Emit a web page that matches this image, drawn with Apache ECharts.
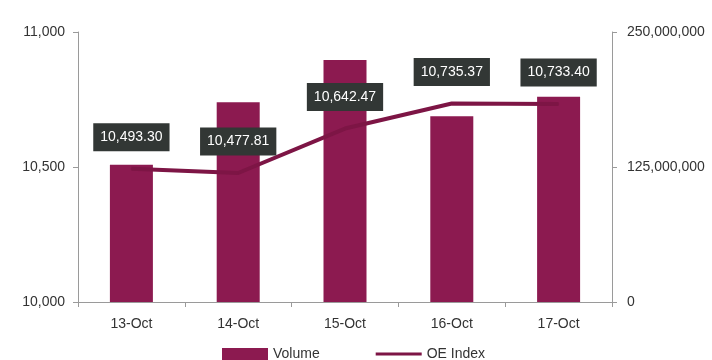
<!DOCTYPE html>
<html>
<head>
<meta charset="utf-8">
<script src="https://cdn.jsdelivr.net/npm/echarts@6/dist/echarts.min.js"></script>
<style>
  html, body { margin: 0; padding: 0; background: #ffffff; }
  #chart { width: 712px; height: 360px; }
</style>
</head>
<body>
<div id="chart"></div>
<script>
// Daily trading volume and OE Index closing level
const days = ['13-Oct', '14-Oct', '15-Oct', '16-Oct', '17-Oct'];
const volume = [127000000, 185000000, 224000000, 172000000, 190000000];
const oeIndex = [10493.30, 10477.81, 10642.47, 10735.37, 10733.40];
const indexTicks = [10000, 10500, 11000];
const volumeTicks = [0, 125000000, 250000000];

const maroon = '#8c1a50';
const lineColor = '#7d1545';
const axisGrey = '#9a9a9a';
const textColor = '#333333';
const fontFamily = '"Liberation Sans", Arial, sans-serif';

// thin bar centred in a 46x12 box, used as the line legend key
const lineKey = 'path://M0,4.5H46V7.5H0Z M0,0H0.01V0.01H0Z M0,12H0.01V11.99H0Z';

function withCommas(v, digits) {
  return Number(v).toLocaleString('en-US', { minimumFractionDigits: digits, maximumFractionDigits: digits });
}

const chart = echarts.init(document.getElementById('chart'));
chart.setOption({
  animation: false,
  textStyle: { fontFamily: fontFamily },
  grid: { left: 78, right: 100, top: 32, bottom: 58 },
  legend: {
    bottom: -6,
    left: 217,
    itemWidth: 46,
    itemHeight: 12,
    itemGap: 56,
    textStyle: { color: textColor, fontSize: 14, fontFamily: fontFamily },
    data: [
      { name: 'Volume', icon: 'rect' },
      { name: 'OE Index', icon: lineKey }
    ]
  },
  xAxis: {
    type: 'category',
    data: days,
    boundaryGap: true,
    axisLine: { lineStyle: { color: axisGrey, width: 1 } },
    axisTick: { show: true, alignWithLabel: false, length: 5, lineStyle: { color: axisGrey } },
    axisLabel: { color: textColor, fontSize: 14, margin: 15 }
  },
  yAxis: [
    {
      type: 'value',
      position: 'left',
      min: indexTicks[0],
      max: indexTicks[indexTicks.length - 1],
      interval: indexTicks[1] - indexTicks[0],
      axisLine: { show: true, lineStyle: { color: axisGrey } },
      axisTick: { show: true, length: 5, lineStyle: { color: axisGrey } },
      splitLine: { show: false },
      axisLabel: { color: textColor, fontSize: 14, margin: 13, formatter: v => withCommas(v, 0) }
    },
    {
      type: 'value',
      position: 'right',
      min: volumeTicks[0],
      max: volumeTicks[volumeTicks.length - 1],
      interval: volumeTicks[1] - volumeTicks[0],
      axisLine: { show: true, lineStyle: { color: axisGrey } },
      axisTick: { show: true, length: 5, lineStyle: { color: axisGrey } },
      splitLine: { show: false },
      axisLabel: { color: textColor, fontSize: 14, margin: 15, formatter: v => withCommas(v, 0) }
    }
  ],
  series: [
    {
      name: 'Volume',
      type: 'bar',
      yAxisIndex: 1,
      data: volume,
      barWidth: 43,
      itemStyle: { color: maroon }
    },
    {
      name: 'OE Index',
      type: 'line',
      yAxisIndex: 0,
      data: oeIndex,
      symbol: 'circle',
      symbolSize: 1,
      showSymbol: true,
      lineStyle: { color: lineColor, width: 4 },
      itemStyle: { color: lineColor },
      z: 3,
      label: {
        show: true,
        position: 'top',
        distance: 17,
        formatter: p => withCommas(p.value, 2),
        color: '#ffffff',
        fontSize: 14,
        fontFamily: fontFamily,
        backgroundColor: '#323735',
        padding: [6, 7, 6, 7],
        lineHeight: 16
      }
    }
  ]
});
</script>
</body>
</html>
